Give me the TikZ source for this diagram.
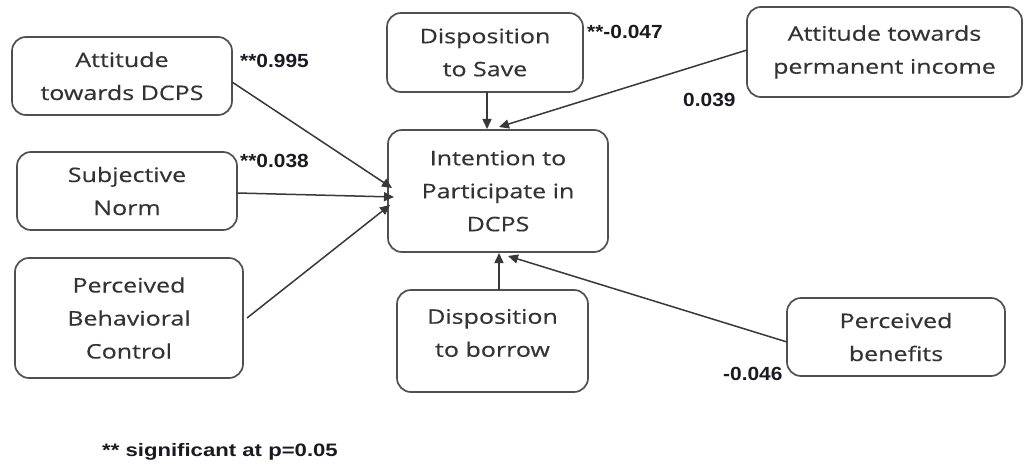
\documentclass[tikz,border=0pt]{standalone}
\usepackage{fontspec}
\newfontfamily\boxfont{Open Sans}[FakeStretch=1.25,FakeBold=0.4]
\newfontfamily\numfont{Liberation Sans}[FakeStretch=1.1]
\newfontfamily\notefont{Liberation Sans}[FakeStretch=1.23]
\usetikzlibrary{arrows.meta}
\definecolor{boxline}{HTML}{505050}
\definecolor{boxtext}{HTML}{333333}
\definecolor{numtext}{HTML}{1A1A22}
\definecolor{linkcol}{HTML}{383838}
\begin{document}
\begin{tikzpicture}[x=1pt,y=-1pt,
  box/.style={draw=boxline, line width=1.7pt, rounded corners=14pt, inner sep=0pt, outer sep=0pt,
    align=center, text=boxtext, font=\boxfont\fontsize{20}{33}\selectfont},
  coef/.style={font=\numfont\bfseries\fontsize{19}{21}\selectfont, text=numtext, inner sep=0pt, anchor=west},
  link/.style={draw=linkcol, line width=1.5pt, -{Triangle[length=10pt,width=9pt]}}]
\useasboundingbox[fill=white] (0,0) rectangle (1027,465);

% boxes
\node[box, minimum width=220pt, minimum height=78pt] (att) at (122,76) {Attitude\\towards DCPS};
\node[box, minimum width=220pt, minimum height=78pt] (sn) at (127,191) {Subjective\\Norm};
\node[box, minimum width=228pt, minimum height=120pt] (pbc) at (129,318) {Perceived\\Behavioral\\Control};
\node[box, minimum width=196pt, minimum height=79pt] (save) at (485,52.5) {Disposition\\to Save};
\node[box, minimum width=275pt, minimum height=90pt] (perm) at (884.5,52) {Attitude towards\\permanent income};
\node[box, minimum width=220pt, minimum height=122pt] (int) at (498,191) {Intention to\\Participate in\\DCPS};
\node[box, minimum width=191pt, minimum height=102pt] (borrow) at (492.5,341) {};
\node[align=center, text=boxtext, font=\boxfont\fontsize{20}{33}\selectfont, inner sep=0pt] (borrowtext) at ([yshift=8pt]borrow.center) {Disposition\\to borrow};
\node[box, minimum width=218pt, minimum height=78pt] (ben) at (896,337) {Perceived\\benefits};

% arrow tips
\coordinate (tAtt) at (392,188);
\coordinate (tSn) at (394,197);
\coordinate (tPbc) at (390,205);
\coordinate (tSave) at (487,129);
\coordinate (tPerm) at (499,127);
\coordinate (tBor) at (499,253);
\coordinate (tBen) at (508,256);

\draw[link] ([yshift=-6pt]att.east) -- (tAtt);
\draw[link] ([yshift=-2pt]sn.east) -- (tSn);
\draw[link] ([xshift=4pt]pbc.east) -- (tPbc);
\draw[link] ([xshift=2pt]save.south) -- (tSave);
\draw[link] ([yshift=2pt]perm.west) -- (tPerm);
\draw[link] ([xshift=6.5pt]borrow.north) -- (tBor);
\draw[link] ([yshift=-5pt]ben.west) -- (tBen);

% coefficients
\node[coef] (c1) at (240,61) {**0.995};
\node[coef] (c2) at (240,161) {**0.038};
\node[coef] (c3) at (587,32) {**-0.047};
\node[coef] (c4) at (683,100) {0.039};
\node[coef] (c5) at (723,374) {-0.046};
\node[font=\notefont\bfseries\fontsize{18}{20}\selectfont, text=numtext, inner sep=0pt] (note) at (220,452) {** significant at p=0.05};
\end{tikzpicture}
\end{document}
